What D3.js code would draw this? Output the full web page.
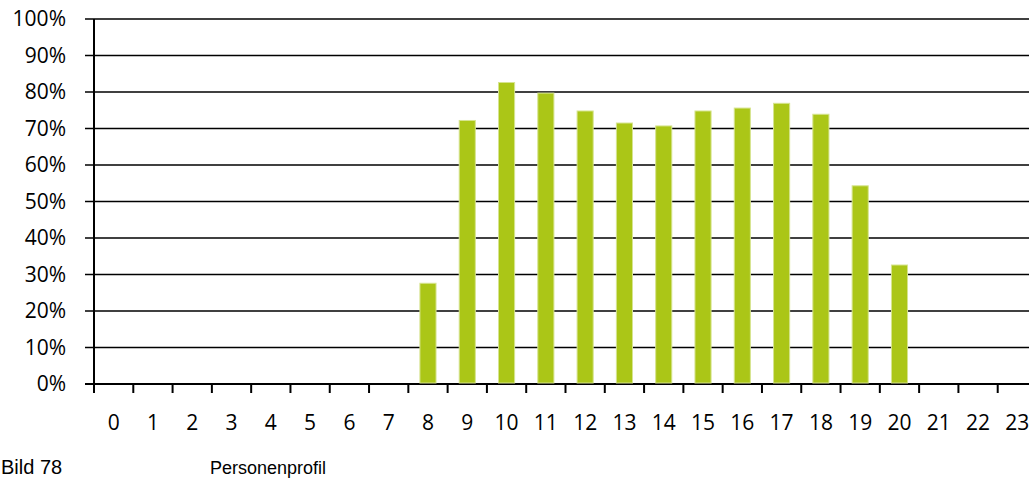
<!DOCTYPE html>
<html><head><meta charset="utf-8">
<script src="https://cdn.jsdelivr.net/npm/d3@7"></script>
<style>body{margin:0;background:#fff;}svg{display:block;}</style>
</head><body>
<svg id="chart" width="1029" height="480"></svg>
<script>
const hours = ["0","1","2","3","4","5","6","7","8","9","10","11","12","13","14","15","16","17","18","19","20","21","22","23"];
const values = [0,0,0,0,0,0,0,0,27.6,72.2,82.6,79.7,74.8,71.5,70.7,74.8,75.6,76.9,73.9,54.3,32.6,0,0,0];
const yTicks = [0,10,20,30,40,50,60,70,80,90,100];
const caption = "Bild 78";
const title = "Personenprofil";

const svg = d3.select("#chart");
const x = d3.scaleBand().domain(hours).range([94, 1037]).paddingInner(0.59).paddingOuter(0.295);
const xb = d3.scaleLinear().domain([0, 24]).range([94, 1037]);
const y = d3.scaleLinear().domain([0, 100]).range([384, 19]);
const font = "'Open Sans', 'Noto Sans', sans-serif";

// gridlines
svg.append("g").selectAll("line").data(yTicks).join("line")
  .attr("x1", 85).attr("x2", 1029)
  .attr("y1", d => y(d)).attr("y2", d => y(d))
  .attr("stroke", "#000").attr("stroke-width", d => d === 0 ? 2 : 1.6);

// y labels
svg.append("g").selectAll("text").data(yTicks).join("text")
  .attr("x", 66).attr("y", d => y(d)).attr("dy", "0.35em")
  .attr("text-anchor", "end").attr("font-family", font).attr("font-size", 21)
  .attr("fill", "#000").text(d => d + "%");

// bars
svg.append("g").selectAll("rect").data(values.map((v, i) => ({h: hours[i], v})).filter(d => d.v > 0)).join("rect")
  .attr("x", d => x(d.h)).attr("width", x.bandwidth())
  .attr("y", d => y(d.v)).attr("height", d => y(0) - y(d.v) - 1)
  .attr("fill", "#abc617").attr("stroke", "#d6e48f").attr("stroke-width", 1);

// x axis ticks
svg.append("g").selectAll("line").data(d3.range(0, 25)).join("line")
  .attr("x1", d => xb(d)).attr("x2", d => xb(d))
  .attr("y1", 384).attr("y2", 393)
  .attr("stroke", "#000").attr("stroke-width", 2);

// y axis
svg.append("line").attr("x1", 94).attr("x2", 94).attr("y1", 19).attr("y2", 385)
  .attr("stroke", "#000").attr("stroke-width", 2);

// x labels
svg.append("g").selectAll("text").data(hours).join("text")
  .attr("x", d => x(d) + x.bandwidth() / 2).attr("y", 430)
  .attr("text-anchor", "middle").attr("font-family", font).attr("font-size", 21)
  .attr("fill", "#000").text(d => d);

svg.append("text").attr("x", 1).attr("y", 474).attr("font-family", "'Liberation Sans', Arial, sans-serif")
  .attr("font-size", 20).attr("fill", "#000").text(caption);
svg.append("text").attr("x", 210).attr("y", 474).attr("font-family", "'Liberation Sans', Arial, sans-serif")
  .attr("font-size", 18).attr("fill", "#000").text(title);
</script>
</body></html>
